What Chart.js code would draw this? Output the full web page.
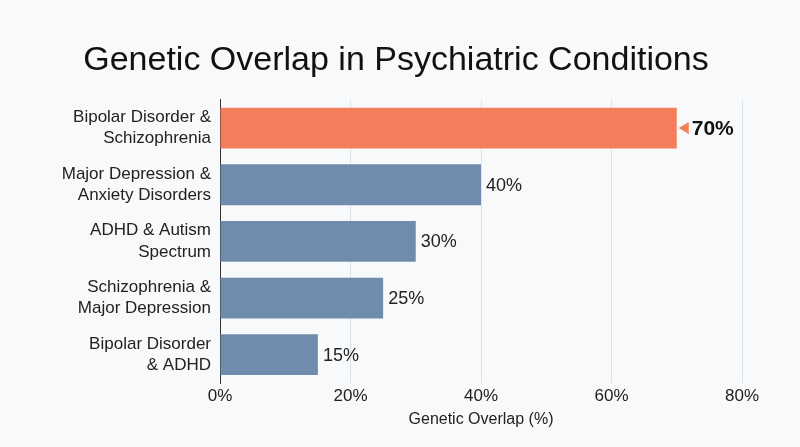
<!DOCTYPE html>
<html>
<head>
<meta charset="utf-8">
<script src="https://cdn.jsdelivr.net/npm/chart.js@4.4.1/dist/chart.umd.min.js"></script>
<style>
  html, body { margin: 0; padding: 0; background: #f7f9fa; }
  #wrap { width: 800px; height: 447px; position: relative; }
</style>
</head>
<body>
<div id="wrap"><canvas id="chart"></canvas></div>
<script>
const CATEGORIES = [
  ["Bipolar Disorder &", "Schizophrenia"],
  ["Major Depression &", "Anxiety Disorders"],
  ["ADHD & Autism", "Spectrum"],
  ["Schizophrenia &", "Major Depression"],
  ["Bipolar Disorder", "& ADHD"],
];
const OVERLAP = [70, 40, 30, 25, 15];
const HIGHLIGHT = 0;
const X_TICKS = [0, 20, 40, 60, 80];

const FONT = "'Liberation Sans', Arial, sans-serif";
const ORANGE = "#f47e5b";
const BLUE = "#6f8cac";

const barColors = OVERLAP.map((_, i) => i === HIGHLIGHT ? ORANGE : BLUE);

// value labels at the end of each bar
const valueLabels = {
  id: "valueLabels",
  afterDatasetsDraw(chart){
    const { ctx } = chart;
    const meta = chart.getDatasetMeta(0);
    ctx.save();
    meta.data.forEach((bar, i) => {
      const x = bar.x;
      const y = bar.y;
      const txt = OVERLAP[i] + "%";
      ctx.textBaseline = "middle";
      ctx.textAlign = "left";
      if (i === HIGHLIGHT){
        ctx.fillStyle = ORANGE;
        ctx.beginPath();
        ctx.moveTo(x + 2, y);
        ctx.lineTo(x + 12, y - 6);
        ctx.lineTo(x + 12, y + 6);
        ctx.closePath();
        ctx.fill();
        ctx.fillStyle = "#111";
        ctx.font = "700 21px " + FONT;
        ctx.fillText(txt, x + 15, y + 1);
      } else {
        ctx.fillStyle = "#222";
        ctx.font = "400 18px " + FONT;
        ctx.fillText(txt, x + 5, y + 1);
      }
    });
    ctx.restore();
  }
};

new Chart(document.getElementById("chart"), {
  type: "bar",
  data: {
    labels: CATEGORIES,
    datasets: [{
      data: OVERLAP,
      backgroundColor: barColors,
      borderWidth: 0,
      barPercentage: 0.72,
      categoryPercentage: 1,
    }]
  },
  plugins: [valueLabels],
  options: {
    indexAxis: "y",
    responsive: true,
    maintainAspectRatio: false,
    animation: false,
    layout: { padding: { left: 50, right: 58, top: 0, bottom: 14 } },
    plugins: {
      legend: { display: false },
      tooltip: { enabled: false },
      title: {
        display: true,
        text: "Genetic Overlap in Psychiatric Conditions",
        color: "#111",
        font: { family: FONT, size: 34, weight: "400" },
        padding: { top: 40, bottom: 19 },
      },
    },
    scales: {
      x: {
        min: 0,
        max: 80,
        afterBuildTicks(scale){ scale.ticks = X_TICKS.map(v => ({ value: v })); },
        afterFit(scale){ scale.height = 50; },
        ticks: {
          color: "#222",
          font: { family: FONT, size: 17 },
          padding: 3,
          callback: (v) => v + "%",
        },
        grid: { color: "#dde2e6", drawTicks: false, lineWidth: 1 },
        border: { display: false },
        title: {
          display: true,
          text: "Genetic Overlap (%)",
          color: "#222",
          font: { family: FONT, size: 16 },
          padding: { top: 2 },
        },
      },
      y: {
        afterFit(scale){ scale.width = 170; },
        ticks: {
          color: "#222",
          font: { family: FONT, size: 17, lineHeight: 1.25 },
          padding: 1,
        },
        grid: { display: false },
        border: { display: true, color: "#333", width: 1 },
      },
    },
  },
});
</script>
</body>
</html>
